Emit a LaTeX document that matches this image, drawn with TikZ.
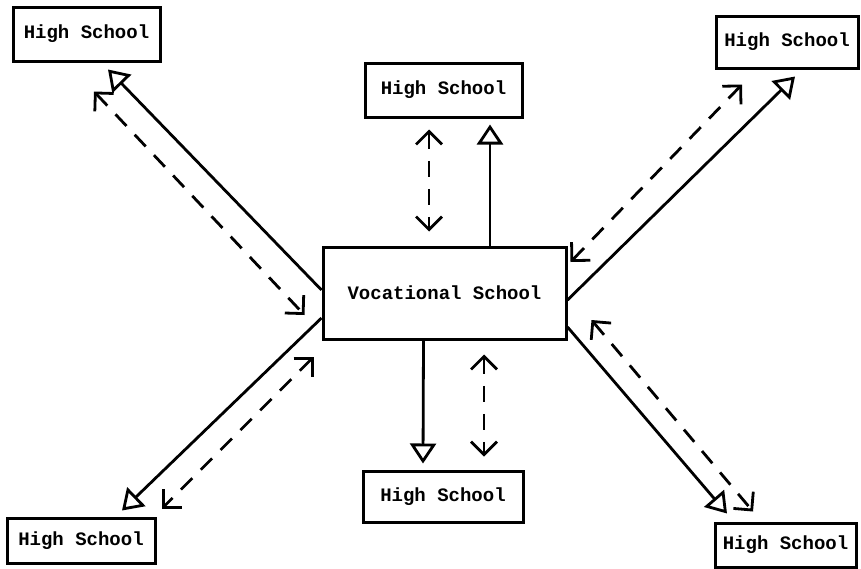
\documentclass[tikz,border=0pt]{standalone}
\usepackage{fontspec}
\setmonofont{Liberation Mono}
\usetikzlibrary{arrows.meta,calc}
\tikzset{
  school/.style={draw, line width=3pt, inner sep=0pt, font=\ttfamily\bfseries\fontsize{19}{20}\selectfont},
  solidarr/.style={line width=2.8pt, -{Triangle[open,length=20pt,width=26pt,line width=2.8pt]}},
  dasharr/.style={line width=2.8pt, dash pattern=on 16pt off 12pt, {Straight Barb[length=13pt,width=26pt,line width=2.8pt]}-{Straight Barb[length=13pt,width=26pt,line width=2.8pt]}}
}
\begin{document}
\begin{tikzpicture}[x=1pt,y=-1pt]
\useasboundingbox (0,0) rectangle (861,568);
\node[school, minimum width=147pt, minimum height=54pt] (tl) at (86.5,34) {High School};
\node[school, minimum width=157pt, minimum height=54pt] (tc) at (443.5,90) {High School};
\node[school, minimum width=142pt, minimum height=52pt] (tr) at (787,42) {High School};
\node[school, minimum width=243pt, minimum height=92pt] (voc) at (444.5,293) {Vocational School};
\node[school, minimum width=148pt, minimum height=45pt] (bl) at (81,540.5) {High School};
\node[school, minimum width=160pt, minimum height=51pt] (bc) at (443,496.5) {High School};
\node[school, minimum width=141pt, minimum height=44pt] (br) at (785.5,545) {High School};
% solid arrows
\draw[solidarr] ($(voc.west)+(0,-3)$) -- ($(tl.south)+(21.5,7)$);
\draw[solidarr] ($(voc.north)+(45.5,0)$) -- ($(tc.south)+(46.5,6)$);
\draw[solidarr] ($(voc.east)+(0,7)$) -- ($(tr.south)+(8,7)$);
\draw[solidarr] ($(voc.west)+(0,25)$) -- ($(bl.north)+(41,-6)$);
\draw[solidarr] ($(voc.east)+(0,34)$) -- ($(br.north)+(-58.5,-8)$);
\draw[solidarr] ($(voc.south)+(-21,0)$) -- ($(bc.north)+(-20,-6)$);
% dashed double arrows
\draw[dasharr] ($(tl.south)+(7.5,29)$) -- ($(voc.west)+(-17,22)$);
\draw[dasharr] ($(tc.south)+(-14.5,11)$) -- ($(voc.north)+(-15.5,-14)$);
\draw[dasharr] ($(tr.south)+(-45,15)$) -- ($(voc.east)+(3,-31)$);
\draw[dasharr] ($(voc.west)+(-8,64)$) -- ($(bl.north)+(81,-8)$);
\draw[dasharr] ($(voc.east)+(24,27)$) -- ($(br.north)+(-32.5,-10)$);
\draw[dasharr] ($(voc.south)+(39.5,14)$) -- ($(bc.north)+(41,-13)$);
\end{tikzpicture}
\end{document}
